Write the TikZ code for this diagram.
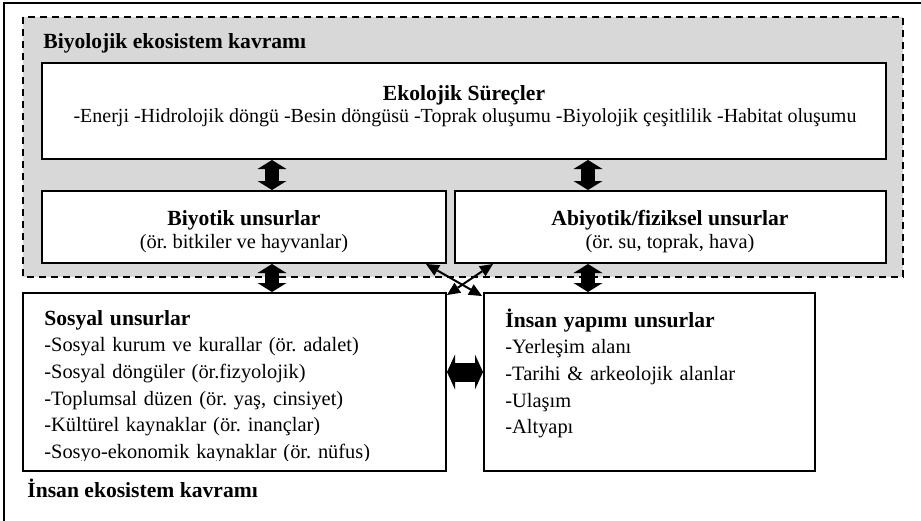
\documentclass[tikz,border=0pt]{standalone}
\usepackage{fontspec}
\setmainfont{Liberation Serif}
\usetikzlibrary{arrows.meta}
\usetikzlibrary{positioning}
\frenchspacing
\definecolor{griarka}{RGB}{216,216,216}
\tikzstyle{kutu}=[draw,line width=1pt,fill=white,inner sep=0pt]
\tikzstyle{baslik}=[font=\bfseries\fontsize{10.8}{13.35}\selectfont,inner sep=0pt]
\tikzstyle{yazi}=[font=\fontsize{10.2}{13.35}\selectfont,inner sep=0pt]
\tikzstyle{liste}=[yazi,align=left,text width=200pt,anchor=base west]
\tikzstyle{kalin}=[line width=7pt,{Triangle[width=14.5pt,length=4.5pt,line width=0pt]}-{Triangle[width=14.5pt,length=4.5pt,line width=0pt]}]
\tikzstyle{kalinyatay}=[line width=9.5pt,{Triangle[width=17.5pt,length=4pt,line width=0pt]}-{Triangle[width=17.5pt,length=4pt,line width=0pt]}]
\tikzstyle{ince}=[line width=1pt,{Triangle[width=6pt,length=6.5pt,line width=0pt]}-{Triangle[width=6pt,length=6.5pt,line width=0pt]}]

\begin{document}
\begin{tikzpicture}[x=0.5pt,y=-0.5pt]
\useasboundingbox (0,0) rectangle (921,520);
\draw[line width=1pt] (4,3) rectangle (940,540);
\draw[fill=griarka,dashed,dash pattern=on 3.5pt off 2.5pt,line width=0.7pt] (23,17) rectangle (903,277);
\node[baslik,anchor=base west] (biyolojik) at (43,48) {Biyolojik ekosistem kavramı};
\node[baslik,anchor=base west] (insan) at (27,497) {İnsan ekosistem kavramı};
%kutular
\node[kutu,minimum width=422pt,minimum height=48pt] (ekoloji) at (464,111) {};
\node[kutu,minimum width=202pt,minimum height=36pt] (biyotik) at (244,227) {};
\node[kutu,minimum width=215.5pt,minimum height=36pt] (abiyotik) at (670.5,227) {};
\node[kutu,minimum width=211.5pt,minimum height=89pt] (sosyal) at (234.5,382) {};
\node[kutu,minimum width=165.5pt,minimum height=89pt] (yapim) at (649.5,382) {};
%yazilar
\node[baslik,anchor=base] (ekolojibas) at (464,100) {Ekolojik Süreçler};
\node[yazi,anchor=base,font=\fontsize{10}{13.35}\selectfont] (ekolojiyazi) at (465,122) {-Enerji -Hidrolojik döngü -Besin döngüsü -Toprak oluşumu -Biyolojik çeşitlilik -Habitat oluşumu};
\node[baslik,anchor=base] (biyotikbas) at (244,225) {Biyotik unsurlar};
\node[yazi,anchor=base] (biyotikyazi) at (244,248) {(ör. bitkiler ve hayvanlar)};
\node[baslik,anchor=base] (abiyotikbas) at (670,225) {Abiyotik/fiziksel unsurlar};
\node[yazi,anchor=base] (abiyotikyazi) at (670,248) {(ör. su, toprak, hava)};
\begin{scope}
\clip (23,293) rectangle (446,460);
\node[liste] (sosyalyazi) at (44,325) {\textbf{\fontsize{10.8}{13.35}\selectfont Sosyal unsurlar}\\
-Sosyal kurum ve kurallar (ör. adalet)\\
-Sosyal döngüler (ör.fizyolojik)\\
-Toplumsal düzen (ör. yaş, cinsiyet)\\
-Kültürel kaynaklar (ör. inançlar)\\
-Sosyo-ekonomik kaynaklar (ör. nüfus)};
\end{scope}
\node[liste] (yapimyazi) at (505,327) {\textbf{\fontsize{10.8}{13.35}\selectfont İnsan yapımı unsurlar}\\
-Yerleşim alanı\\
-Tarihi \& arkeolojik alanlar\\
-Ulaşım\\
-Altyapı};
%oklar
\coordinate (k1) at (272,0);
\coordinate (k2) at (588,0);
\coordinate (k3) at (0,372);
\draw[kalin] (ekoloji.south -| k1) -- (biyotik.north -| k1);
\draw[kalin] (ekoloji.south -| k2) -- (abiyotik.north -| k2);
\draw[kalin] (biyotik.south -| k1) -- (sosyal.north -| k1);
\draw[kalin] (abiyotik.south -| k2) -- (yapim.north -| k2);
\draw[kalinyatay] (sosyal.east |- k3) -- (yapim.west |- k3);
\draw[ince] ([xshift=-10.5pt]biyotik.south east) -- ([shift={(-0.5pt,-2pt)}]yapim.north west);
\draw[ince] ([yshift=-1.5pt]sosyal.north east) -- ([xshift=19.5pt]abiyotik.south west);
\end{tikzpicture}
\end{document}
